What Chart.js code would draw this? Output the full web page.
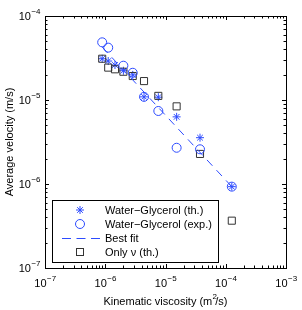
<!DOCTYPE html>
<html>
<head>
<meta charset="utf-8">
<script src="https://cdn.jsdelivr.net/npm/chart.js@4"></script>
<style>
  html, body { margin: 0; padding: 0; background: #fff; }
  #wrap { width: 302px; height: 310px; }
</style>
</head>
<body>
<div id="wrap"><canvas id="myChart" width="302" height="310"></canvas></div>
<script>
// kinematic viscosity (m^2/s) for the theory points
const viscTh = [8.9e-7, 1.12e-6, 1.45e-6, 2.0e-6, 2.86e-6, 4.4e-6, 7.6e-6, 1.53e-5, 3.74e-5, 1.26e-4]
const velTh = [3.1e-5, 2.91e-5, 2.61e-5, 2.23e-5, 1.99e-5, 1.09e-5, 1.08e-5, 6.3e-6, 3.56e-6, 9.3e-7]
// experiments
const viscExp = [8.9e-7, 1.12e-6, 2.0e-6, 2.86e-6, 4.4e-6, 7.6e-6, 1.53e-5, 3.74e-5, 1.26e-4]
const velExp = [4.86e-5, 4.2e-5, 2.56e-5, 2.11e-5, 1.09e-5, 7.4e-6, 2.7e-6, 2.59e-6, 9.3e-7]
// best fit
const viscFit = [8.9e-7, 1.26e-4]
const velFit = [4.27e-5, 9.3e-7]
// only viscosity
const velOnly = [3.1e-5, 2.43e-5, 2.32e-5, 2.17e-5, 1.93e-5, 1.68e-5, 1.12e-5, 8.4e-6, 2.28e-6, 3.66e-7]

const xTicks = [-7, -6, -5, -4, -3]
const yTicks = [-7, -6, -5, -4]
const legendLabels = ['Water\u2212Glycerol (th.)', 'Water\u2212Glycerol (exp.)', 'Best fit', 'Only \u03bd (th.)']

const blue = 'rgb(45,75,255)'
const dark = '#333'
const font = '"Liberation Sans", Arial, sans-serif'

function pts(xs, ys) {
    return xs.map((x, i) => ({x: x, y: ys[i]}))
}

// label like 10^-5 with a raised exponent
function powLabel(ctx, e, x, y, align) {
    const base = '10'
    const ex = '\u2212' + Math.abs(e)
    ctx.font = '11px ' + font
    const w1 = ctx.measureText(base).width
    ctx.font = '8px ' + font
    const w2 = ctx.measureText(ex).width
    let x0 = align === 'center' ? x - (w1 + w2) / 2 : x - (w1 + w2)
    ctx.textAlign = 'left'
    ctx.textBaseline = 'alphabetic'
    ctx.font = '11px ' + font
    ctx.fillText(base, x0, y)
    ctx.font = '8px ' + font
    ctx.fillText(ex, x0 + w1 + 0.5, y - 6)
}

const frame = {
    id: 'frame',
    afterDraw(chart) {
        const ctx = chart.ctx
        const a = chart.chartArea
        const sx = chart.scales.x, sy = chart.scales.y
        ctx.save()
        ctx.strokeStyle = '#000'
        ctx.lineWidth = 1
        ctx.strokeRect(Math.round(a.left) + 0.5, Math.round(a.top) + 0.5,
            Math.round(a.right - a.left), Math.round(a.bottom - a.top))

        // ticks inward on all sides
        ctx.beginPath()
        for (let d = -7; d <= -3; d++) {
            for (let m = 1; m <= 9; m++) {
                const v = m * Math.pow(10, d)
                if (v > 1.0001e-3) break
                const len = m === 1 ? 4 : 2.5
                const px = Math.round(sx.getPixelForValue(v)) + 0.5
                ctx.moveTo(px, a.bottom); ctx.lineTo(px, a.bottom - len)
                ctx.moveTo(px, a.top); ctx.lineTo(px, a.top + len)
            }
        }
        for (let d = -7; d <= -4; d++) {
            for (let m = 1; m <= 9; m++) {
                const v = m * Math.pow(10, d)
                if (v > 1.0001e-4) break
                const len = m === 1 ? 4 : 2.5
                const py = Math.round(sy.getPixelForValue(v)) + 0.5
                ctx.moveTo(a.left, py); ctx.lineTo(a.left + len, py)
                ctx.moveTo(a.right, py); ctx.lineTo(a.right - len, py)
            }
        }
        ctx.stroke()

        ctx.fillStyle = '#000'
        xTicks.forEach(e => powLabel(ctx, e, sx.getPixelForValue(Math.pow(10, e)), a.bottom + 19, 'center'))
        yTicks.forEach(e => powLabel(ctx, e, a.left - 5, sy.getPixelForValue(Math.pow(10, e)) + 4, 'right'))

        // axis titles
        ctx.font = '11px ' + font
        ctx.textAlign = 'center'
        ctx.textBaseline = 'middle'
        const tx = 'Kinematic viscosity (m /s)'
        const cx = (a.left + a.right) / 2
        ctx.fillText(tx, cx, 302)
        // superscript 2
        const pre = ctx.measureText('Kinematic viscosity (m').width
        const full = ctx.measureText(tx).width
        ctx.font = '8px ' + font
        ctx.textAlign = 'left'
        ctx.fillText('2', cx - full / 2 + pre + 0.3, 297)
        ctx.font = '11px ' + font
        ctx.save()
        ctx.translate(10, (a.top + a.bottom) / 2)
        ctx.rotate(-Math.PI / 2)
        ctx.textAlign = 'center'
        ctx.fillText('Average velocity (m/s)', 0, 0)
        ctx.restore()

        // legend box
        const lx = 52, ly = 200, lw = 166, lh = 62
        ctx.fillStyle = '#fff'
        ctx.fillRect(lx, ly, lw, lh)
        ctx.strokeStyle = '#000'
        ctx.strokeRect(lx + 0.5, ly + 0.5, lw, lh)
        const rows = [210, 224, 238, 252]
        const mx = 80
        ctx.lineWidth = 1
        // asterisk
        ctx.strokeStyle = blue
        ctx.beginPath()
        const r = 4, q = r * Math.SQRT1_2
        ctx.moveTo(mx - r, rows[0]); ctx.lineTo(mx + r, rows[0])
        ctx.moveTo(mx, rows[0] - r); ctx.lineTo(mx, rows[0] + r)
        ctx.moveTo(mx - q, rows[0] - q); ctx.lineTo(mx + q, rows[0] + q)
        ctx.moveTo(mx - q, rows[0] + q); ctx.lineTo(mx + q, rows[0] - q)
        ctx.stroke()
        // circle
        ctx.beginPath()
        ctx.arc(mx, rows[1], 4.5, 0, Math.PI * 2)
        ctx.stroke()
        // dashed line
        ctx.setLineDash([9, 5.5])
        ctx.beginPath()
        ctx.moveTo(62, rows[2] + 0.5); ctx.lineTo(101, rows[2] + 0.5)
        ctx.stroke()
        ctx.setLineDash([])
        // square
        ctx.strokeStyle = dark
        ctx.strokeRect(mx - 3.5, rows[3] - 3.5, 7, 7)

        ctx.fillStyle = '#000'
        ctx.font = '11px ' + font
        ctx.textAlign = 'left'
        ctx.textBaseline = 'middle'
        legendLabels.forEach((t, i) => ctx.fillText(t, 105, rows[i] + 0.5))
        ctx.restore()
    }
}

const ctx = document.getElementById('myChart')
const data = {
    datasets: [
        {
            label: legendLabels[2],
            data: pts(viscFit, velFit),
            showLine: true,
            borderColor: blue,
            borderWidth: 1,
            borderDash: [8, 6],
            pointRadius: 0
        },
        {
            label: legendLabels[1],
            data: pts(viscExp, velExp),
            showLine: false,
            pointStyle: 'circle',
            pointRadius: 4.5,
            borderColor: blue,
            backgroundColor: 'rgba(0,0,0,0)',
            pointBorderWidth: 1
        },
        {
            label: legendLabels[3],
            data: pts(viscTh, velOnly),
            showLine: false,
            pointStyle: 'rect',
            pointRadius: 5,
            borderColor: dark,
            backgroundColor: 'rgba(0,0,0,0)',
            pointBorderWidth: 1
        },
        {
            label: legendLabels[0],
            data: pts(viscTh, velTh),
            showLine: false,
            pointStyle: 'star',
            pointRadius: 4,
            borderColor: blue,
            backgroundColor: blue,
            pointBorderWidth: 1
        }
    ]
}

const config = {
    type: 'scatter',
    data: data,
    options: {
        responsive: false,
        animation: false,
        layout: { padding: { left: 45, top: 16, right: 16, bottom: 42 } },
        plugins: { legend: { display: false }, tooltip: { enabled: false } },
        scales: {
            x: { type: 'logarithmic', min: 1e-7, max: 1e-3, display: false },
            y: { type: 'logarithmic', min: 1e-7, max: 1e-4, display: false }
        }
    },
    plugins: [frame]
}

const myChart = new Chart(ctx, config)
</script>
</body>
</html>
